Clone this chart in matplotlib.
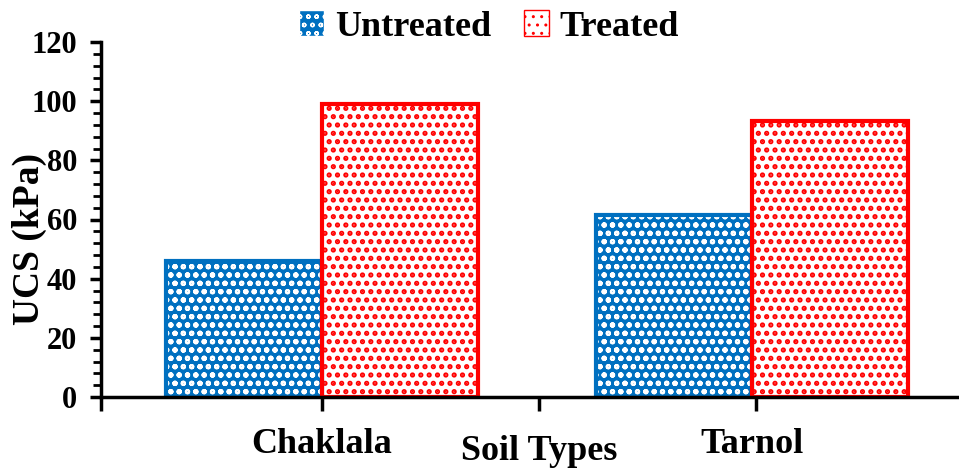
import matplotlib
matplotlib.use('Agg')
import matplotlib.pyplot as plt
from matplotlib.patches import Patch
from matplotlib.ticker import MultipleLocator

plt.rcParams['font.family'] = 'Liberation Serif'
plt.rcParams['font.weight'] = 'bold'

# data
soils = ['Chaklala', 'Tarnol']
untreated = [46, 61.5]
treated = [99, 93.3]

blue = '#0070C0'
red = '#FF0000'

fig = plt.figure(figsize=(9.59, 4.68), dpi=100)
ax = fig.add_axes([101 / 959, (468 - 397) / 468, (959 - 101) / 959, 355 / 468])

centers = [1, 3]
w = 0.725
xu = [c - w / 2 for c in centers]
xt = [c + w / 2 for c in centers]

# hatched fills (hatch takes edgecolor), then outlines
with plt.rc_context({'hatch.linewidth': 1.5}):
    ub = ax.bar(xu, untreated, w, color=blue, edgecolor='white', hatch='oo', linewidth=0)
    hu = Patch(facecolor=blue, edgecolor='white', hatch='oo', label='Untreated')
with plt.rc_context({'hatch.linewidth': 2.5}):
    tb = ax.bar(xt, treated, w, color='white', edgecolor=red, hatch='..', linewidth=0)
    ht = Patch(facecolor='white', edgecolor=red, hatch='..', label='Treated')
ax.bar(xu, untreated, w, fill=False, edgecolor=blue, linewidth=3)
ax.bar(xt, treated, w, fill=False, edgecolor=red, linewidth=3)

x0 = -0.028
ax.set_xlim(x0, 3.963)
ax.set_ylim(0, 120)
ax.yaxis.set_major_locator(MultipleLocator(20))
ax.yaxis.set_minor_locator(MultipleLocator(4))
ax.set_xticks([x0, 1, 2.01, 3.02])
ax.set_xticklabels([])

for s in ['top', 'right']:
    ax.spines[s].set_visible(False)
for s in ['left', 'bottom']:
    ax.spines[s].set_linewidth(2.5)

ax.tick_params(axis='y', which='major', direction='out', length=8, width=2.5, labelsize=22, pad=9)
ax.tick_params(axis='y', which='minor', direction='out', length=6, width=2)
ax.tick_params(axis='x', which='major', direction='out', length=10, width=2.5)
for lbl in ax.get_yticklabels():
    lbl.set_fontweight('bold')

for c, name in zip(centers, soils):
    ax.text(c, -16, name, ha='center', va='center', fontsize=26, fontweight='bold')
ax.text(2.01, -18.5, 'Soil Types', ha='center', va='center', fontsize=26, fontweight='bold')

ax.set_ylabel('UCS (kPa)', fontsize=27, fontweight='bold')
ax.yaxis.set_label_coords(-0.063, 0.445)

fig.legend(handles=[hu, ht], loc='center', bbox_to_anchor=(0.51, 1 - 27 / 468), ncol=2,
           frameon=False, prop={'size': 26, 'weight': 'bold'}, handlelength=0.7,
           handleheight=0.7, handletextpad=0.3, columnspacing=0.9)

fig.savefig('out.png', dpi=100)
